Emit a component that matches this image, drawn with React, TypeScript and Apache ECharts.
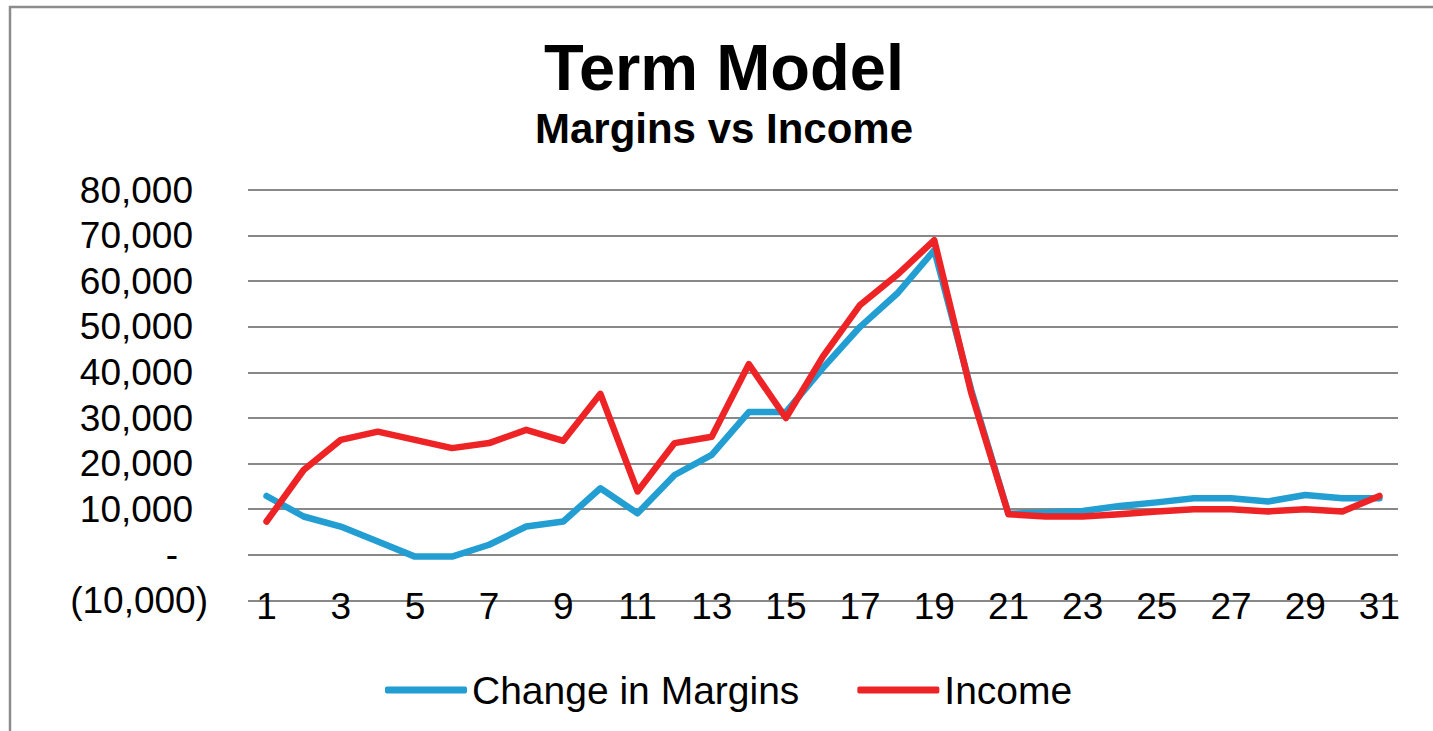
import React, { useEffect, useRef } from "react";
import * as echarts from "echarts";

const categories = ["1","2","3","4","5","6","7","8","9","10","11","12","13","14","15","16","17","18","19","20","21","22","23","24","25","26","27","28","29","30","31"];
const marginsData = [12900, 8400, 6200, 2900, -400, -400, 2200, 6200, 7300, 14600, 9100, 17500, 21900, 31300, 31300, 41000, 50000, 57300, 66800, 36000, 9000, 9300, 9600, 10700, 11500, 12400, 12400, 11700, 13100, 12400, 12400];
const incomeData = [7300, 18600, 25200, 27000, 25200, 23400, 24500, 27400, 25000, 35300, 13900, 24500, 25900, 41800, 30000, 43500, 54800, 61400, 69000, 35400, 8900, 8400, 8400, 8900, 9500, 10000, 10000, 9500, 10000, 9500, 12900];
const seriesNames = ["Change in Margins", "Income"];
const titleText = "Term Model";
const subtitleText = "Margins vs Income";

const FONT = "'Liberation Sans', Arial, Helvetica, sans-serif";

function fmt(n: number): string {
  return n.toLocaleString("en-US");
}

export default function App() {
  const ref = useRef<HTMLDivElement>(null);
  useEffect(() => {
    if (!ref.current) return;
    const chart = echarts.init(ref.current, undefined, { renderer: "svg" });
    const labelSize = 37;
    chart.setOption({
      animation: false,
      backgroundColor: "#ffffff",
      title: [
        {
          text: titleText,
          left: 724,
          top: 35,
          textAlign: "center",
          padding: 0,
          textStyle: { fontFamily: FONT, fontSize: 65, lineHeight: 65, fontWeight: "bold", color: "#000" },
        },
        {
          text: subtitleText,
          left: 724,
          top: 107.5,
          textAlign: "center",
          padding: 0,
          textStyle: { fontFamily: FONT, fontSize: 42, lineHeight: 42, fontWeight: "bold", color: "#000" },
        },
      ],
      graphic: [
        {
          type: "rect",
          shape: { x: 10, y: 7, width: 1500, height: 900 },
          style: { fill: "none", stroke: "#8c8c8c", lineWidth: 2.5 },
          silent: true,
        },
      ],
      legend: {
        left: 385,
        top: 670,
        itemWidth: 82,
        itemHeight: 7,
        itemGap: 58,
        icon: "roundRect",
        padding: 0,
        textStyle: { fontFamily: FONT, fontSize: 39, lineHeight: 40, color: "#000" },
        data: seriesNames,
      },
      grid: { left: 248, right: 35, top: 190, bottom: 130.6, containLabel: false },
      xAxis: {
        type: "category",
        data: categories,
        boundaryGap: true,
        axisLine: { show: false },
        axisTick: { show: false },
        axisLabel: {
          interval: 1,
          margin: -12,
          fontFamily: FONT,
          fontSize: labelSize,
          lineHeight: 37,
          color: "#000",
        },
        splitLine: { show: false },
      },
      yAxis: {
        type: "value",
        min: -10000,
        max: 80000,
        interval: 10000,
        axisLine: { show: false },
        axisTick: { show: false },
        splitLine: { show: true, lineStyle: { color: "#888888", width: 2.2 } },
        axisLabel: {
          margin: 40,
          fontFamily: FONT,
          fontSize: labelSize,
          color: "#000",
          formatter: (v: number) => {
            if (v === 0) return "{z|-}";
            if (v < 0) return "{n|(" + fmt(-v) + ")}";
            return "{p|" + fmt(v) + "}";
          },
          rich: {
            z: { fontFamily: FONT, fontSize: labelSize, color: "#000", padding: [0, 30, 0, 0] },
            n: { fontFamily: FONT, fontSize: labelSize, color: "#000" },
            p: { fontFamily: FONT, fontSize: labelSize, color: "#000", padding: [0, 15, 0, 0] },
          },
        },
      },
      series: [
        {
          name: seriesNames[0],
          type: "line",
          data: marginsData,
          symbol: "none",
          color: "#229ED2",
          lineStyle: { color: "#229ED2", width: 6.5, cap: "round", join: "round" },
          z: 2,
        },
        {
          name: seriesNames[1],
          type: "line",
          data: incomeData,
          symbol: "none",
          color: "#EE2326",
          lineStyle: { color: "#EE2326", width: 6.5, cap: "round", join: "round" },
          z: 3,
        },
      ],
    });
    return () => chart.dispose();
  }, []);
  return (
    <div
      ref={ref}
      style={{ position: "fixed", left: 0, top: 0, width: 1433, height: 731, background: "#fff" }}
    />
  );
}
